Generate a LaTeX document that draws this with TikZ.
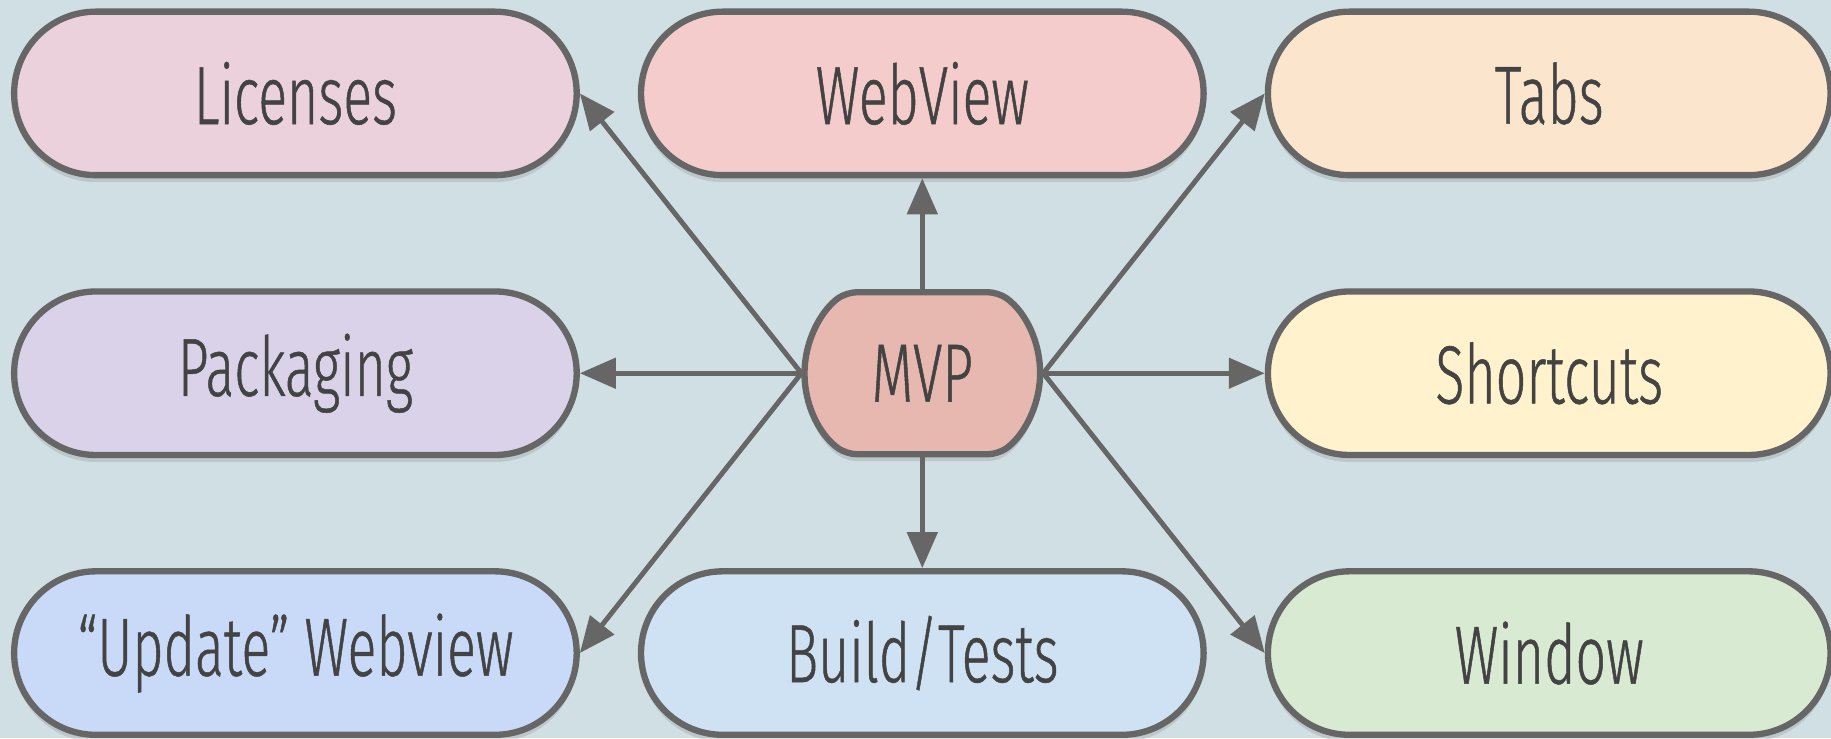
\documentclass[tikz,border=0pt]{standalone}
\usepackage{fontspec}
\setmainfont{Fira Sans}[UprightFont=* Light, FakeStretch=0.65, FakeBold=0.6]
\usetikzlibrary{positioning,shapes.misc,arrows.meta,shadows}

\definecolor{bgcol}{HTML}{D0DFE3}
\definecolor{linecol}{HTML}{666666}
\definecolor{textcol}{HTML}{434343}
\definecolor{licensecol}{HTML}{EAD1DC}
\definecolor{webviewcol}{HTML}{F4CCCC}
\definecolor{tabscol}{HTML}{FCE5CD}
\definecolor{packcol}{HTML}{D9D2E9}
\definecolor{mvpcol}{HTML}{E6B8AF}
\definecolor{shortcol}{HTML}{FFF2CC}
\definecolor{updatecol}{HTML}{C9DAF8}
\definecolor{buildcol}{HTML}{CFE2F3}
\definecolor{windowcol}{HTML}{D9EAD3}

\tikzset{
  pill/.style={rounded rectangle, draw=linecol, line width=1.8pt,
    minimum width=5.86cm, minimum height=1.635cm, text=textcol,
    font=\fontsize{23.5}{26}\selectfont,
    drop shadow={opacity=0.25, shadow xshift=0mm, shadow yshift=-0.7mm}},
  mvpbox/.style={pill, rounded rectangle arc length=110, rounded corners=1mm,
    minimum width=2.59cm, minimum height=1.62cm},
  link/.style={draw=linecol, line width=1.4pt, -{Triangle[length=3.6mm,width=3mm]}},
}

\begin{document}
\begin{tikzpicture}[node distance=1.1cm and 0.58cm]
  \fill[bgcol] (0,0) rectangle (18.31,7.38);
  \useasboundingbox (0,0) rectangle (18.31,7.38);

  % Nodes
  \node[pill, fill=licensecol] (licenses) at (2.954,6.446) {Licenses};
  \node[pill, fill=webviewcol, right=of licenses] (webview) {WebView};
  \node[pill, fill=tabscol, right=of webview] (tabs) {Tabs};
  \node[pill, fill=packcol, below=of licenses] (packaging) {Packaging};
  \node[pill, fill=shortcol, below=of tabs] (shortcuts) {Shortcuts};
  \node[pill, fill=updatecol, below=of packaging] (update) {“Update” Webview};
  \node[pill, fill=buildcol, right=of update] (build) {Build/Tests};
  \node[pill, fill=windowcol, right=of build] (window) {Window};
  \node[mvpbox, fill=mvpcol] (mvp) at (webview |- packaging) {MVP};

  % Arrows
  \draw[link] (mvp.north) -- (webview.south);
  \draw[link] (mvp.south) -- (build.north);
  \draw[link] (mvp.west) -- (packaging.east);
  \draw[link] (mvp.west) -- (licenses.east);
  \draw[link] (mvp.west) -- (update.east);
  \draw[link] (mvp.east) -- (shortcuts.west);
  \draw[link] (mvp.east) -- (tabs.west);
  \draw[link] (mvp.east) -- (window.west);
\end{tikzpicture}
\end{document}
